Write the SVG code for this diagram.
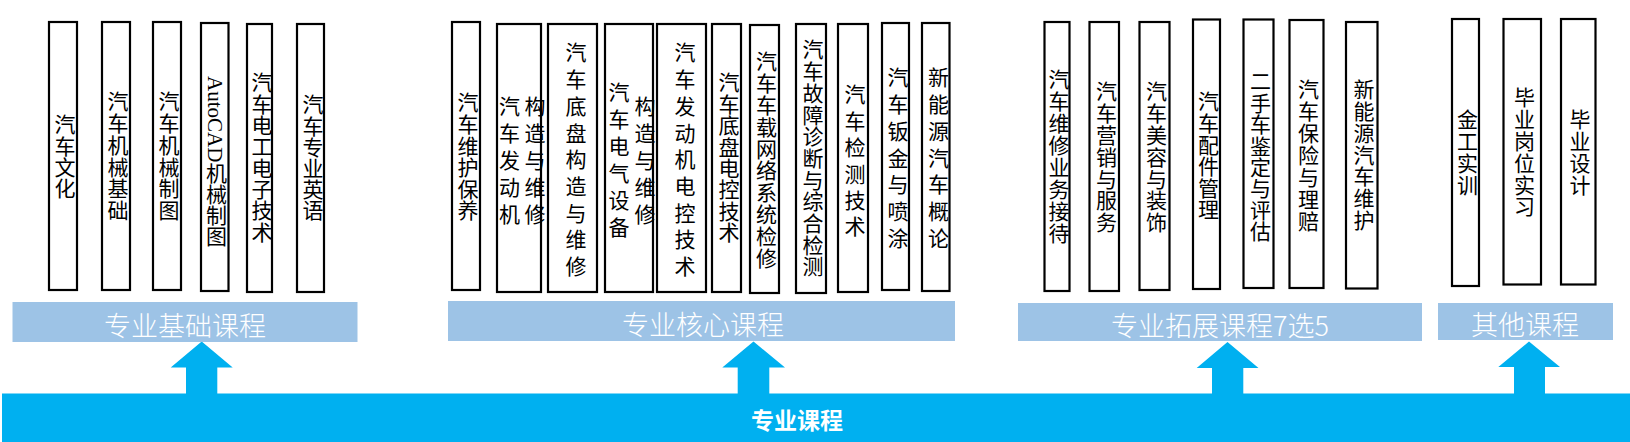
<svg xmlns="http://www.w3.org/2000/svg" width="1630" height="442" viewBox="0 0 1630 442">
<style>
.bg{fill:#ffffff}
.c{fill:#ffffff;stroke:#000000;stroke-width:2.2}
.v{writing-mode:vertical-rl;font-family:"Liberation Serif","Noto Sans CJK SC",serif;font-size:21px;fill:#000000}
.lab{fill:#9DC3E6}
.lt{font-family:"Noto Sans CJK SC","Noto Sans",sans-serif;font-size:27px;font-weight:300;fill:#ffffff;text-anchor:middle;dominant-baseline:central}
.band{fill:#00B0F0}
.bt{font-family:"Noto Sans CJK SC","Noto Sans",sans-serif;font-size:23px;font-weight:700;fill:#ffffff;text-anchor:middle;dominant-baseline:central}
.arr{fill:#00B0F0}
</style>
<rect class="bg" x="0" y="0" width="1630" height="442"/>

<g id="band-zhuanye">
<rect class="band" x="2" y="393.5" width="1628" height="48.5"/>
<text class="bt" x="797" y="419">专业课程</text>
</g>

<g id="connectors">
<polygon class="arr" points="201.7,341.5 232.7,367.5 217.3,367.5 217.3,394 186,394 186,367.5 170.7,367.5"/>
<polygon class="arr" points="753.5,341.5 785,367.5 769.3,367.5 769.3,394 737.7,394 737.7,367.5 722.3,367.5"/>
<polygon class="arr" points="1227.5,342 1258.5,368 1243.3,368 1243.3,394 1212,394 1212,368 1196.7,368"/>
<polygon class="arr" points="1529,341.5 1560,367 1545,367 1545,394 1514,394 1514,367 1498.3,367"/>
</g>

<g id="label-jichu"><rect class="lab" x="12.5" y="302" width="345" height="40"/><text class="lt" x="185" y="324">专业基础课程</text></g>
<g id="label-hexin"><rect class="lab" x="448" y="301" width="507" height="40"/><text class="lt" x="703" y="323">专业核心课程</text></g>
<g id="label-tuozhan"><rect class="lab" x="1018" y="303" width="404" height="38"/><text class="lt" x="1220" y="324">专业拓展课程7选5</text></g>
<g id="label-qita"><rect class="lab" x="1438" y="303" width="175" height="37"/><text class="lt" x="1525" y="323">其他课程</text></g>

<g id="n-b1"><rect class="c" x="49" y="22" width="28" height="268"/><text class="v" x="63" y="114" style="letter-spacing:0.3px">汽车文化</text></g>
<g id="n-b2"><rect class="c" x="102" y="22" width="28" height="268"/><text class="v" x="116" y="91" style="letter-spacing:0.7px">汽车机械基础</text></g>
<g id="n-b3"><rect class="c" x="153" y="22" width="28" height="268"/><text class="v" x="167" y="91" style="letter-spacing:0.7px">汽车机械制图</text></g>
<g id="n-b4"><rect class="c" x="201" y="23" width="27.5" height="268"/><text class="v" x="214.5" y="76">AutoCAD机械制图</text></g>
<g id="n-b5"><rect class="c" x="247" y="24" width="25" height="268"/><text class="v" x="260" y="72" style="letter-spacing:0.3px">汽车电工电子技术</text></g>
<g id="n-b6"><rect class="c" x="297" y="24" width="27" height="268"/><text class="v" x="311" y="94" style="letter-spacing:0.2px">汽车专业英语</text></g>

<g id="n-c1"><rect class="c" x="452" y="22" width="28" height="268"/><text class="v" x="466" y="92" style="letter-spacing:0.6px">汽车维护保养</text></g>
<g id="n-c2"><rect class="c" x="497" y="24" width="44" height="268"/><text class="v" x="507.5" y="96" style="letter-spacing:6px">汽车发动机</text><text class="v" x="533" y="96" style="letter-spacing:6px">构造与维修</text></g>
<g id="n-c3"><rect class="c" x="548" y="24" width="49" height="268"/><text class="v" x="574" y="42" style="letter-spacing:5.7px">汽车底盘构造与维修</text></g>
<g id="n-c4"><rect class="c" x="605" y="24" width="48" height="268"/><text class="v" x="617" y="82" style="letter-spacing:6px">汽车电气设备</text><text class="v" x="643" y="96" style="letter-spacing:6px">构造与维修</text></g>
<g id="n-c5"><rect class="c" x="657" y="24" width="49" height="268"/><text class="v" x="683" y="42" style="letter-spacing:5.7px">汽车发动机电控技术</text></g>
<g id="n-c6"><rect class="c" x="712" y="24" width="29" height="268"/><text class="v" x="727" y="72" style="letter-spacing:0.4px">汽车底盘电控技术</text></g>
<g id="n-c7"><rect class="c" x="750" y="25" width="29" height="268"/><text class="v" x="764.5" y="51" style="letter-spacing:0.8px">汽车车载网络系统检修</text></g>
<g id="n-c8"><rect class="c" x="796" y="24" width="30" height="269"/><text class="v" x="811" y="39" style="letter-spacing:0.7px">汽车故障诊断与综合检测</text></g>
<g id="n-c9"><rect class="c" x="838" y="24" width="30" height="268"/><text class="v" x="853" y="84" style="letter-spacing:5.4px">汽车检测技术</text></g>
<g id="n-c10"><rect class="c" x="882" y="23" width="27" height="267"/><text class="v" x="896" y="67" style="letter-spacing:5.7px">汽车钣金与喷涂</text></g>
<g id="n-c11"><rect class="c" x="922" y="23" width="27.5" height="268"/><text class="v" x="936.5" y="67" style="letter-spacing:5.7px">新能源汽车概论</text></g>

<g id="n-t1"><rect class="c" x="1044.5" y="22" width="25" height="269"/><text class="v" x="1057" y="69" style="letter-spacing:0.9px">汽车维修业务接待</text></g>
<g id="n-t2"><rect class="c" x="1089.5" y="22" width="29.5" height="269"/><text class="v" x="1104.5" y="81" style="letter-spacing:0.8px">汽车营销与服务</text></g>
<g id="n-t3"><rect class="c" x="1139.5" y="22" width="30" height="268"/><text class="v" x="1154.5" y="81" style="letter-spacing:0.8px">汽车美容与装饰</text></g>
<g id="n-t4"><rect class="c" x="1193" y="19.5" width="27" height="269.5"/><text class="v" x="1206.5" y="91" style="letter-spacing:0.6px">汽车配件管理</text></g>
<g id="n-t5"><rect class="c" x="1243.5" y="19.5" width="30" height="268.5"/><text class="v" x="1258.5" y="71" style="letter-spacing:0.4px">二手车鉴定与评估</text></g>
<g id="n-t6"><rect class="c" x="1289.5" y="20" width="34" height="268"/><text class="v" x="1306.5" y="79" style="letter-spacing:1px">汽车保险与理赔</text></g>
<g id="n-t7"><rect class="c" x="1346" y="22" width="31.5" height="266.5"/><text class="v" x="1362" y="79" style="letter-spacing:0.7px">新能源汽车维护</text></g>

<g id="n-o1"><rect class="c" x="1452" y="19" width="27" height="267"/><text class="v" x="1465.5" y="109" style="letter-spacing:0.7px">金工实训</text></g>
<g id="n-o2"><rect class="c" x="1503.5" y="19" width="37.5" height="265.5"/><text class="v" x="1522.5" y="87" style="letter-spacing:0.8px">毕业岗位实习</text></g>
<g id="n-o3"><rect class="c" x="1561" y="19" width="34.5" height="265.5"/><text class="v" x="1578" y="109" style="letter-spacing:0.7px">毕业设计</text></g>
</svg>
